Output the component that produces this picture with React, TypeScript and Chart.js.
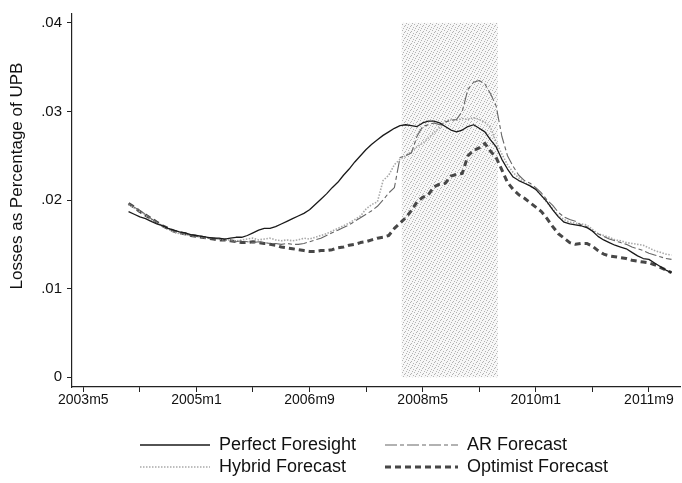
import React, { useEffect, useRef } from "react";
import { Chart, registerables } from "chart.js";

Chart.register(...registerables);

// month index 0 = 2003m5
const startMonth = 8; // 2004m1
const perfectForesight = [
  0.0187, 0.0184, 0.0181, 0.0179, 0.0176, 0.0173, 0.0171, 0.0168, 0.0166, 0.0164,
  0.0163, 0.0161, 0.016, 0.0159, 0.0158, 0.0157, 0.0157, 0.0156, 0.0157, 0.0158,
  0.0158, 0.016, 0.0163, 0.0166, 0.0168, 0.0168, 0.017, 0.0173, 0.0176, 0.0179,
  0.0182, 0.0185, 0.0189, 0.0195, 0.0201, 0.0207, 0.0214, 0.022, 0.0228, 0.0235,
  0.0243, 0.025, 0.0257, 0.0263, 0.0268, 0.0273, 0.0277, 0.0281, 0.0284, 0.0285,
  0.0284, 0.0283, 0.0287, 0.0289, 0.0289, 0.0287, 0.0283, 0.0279, 0.0277, 0.0279,
  0.0283, 0.0285, 0.0281, 0.0277, 0.0268, 0.026, 0.0246, 0.0235, 0.0226, 0.0222,
  0.0219, 0.0216, 0.0212, 0.0205, 0.0198, 0.0189, 0.0181, 0.0175, 0.0173, 0.0172,
  0.0171, 0.0169, 0.0165, 0.0159, 0.0155, 0.0152, 0.0149, 0.0147, 0.0145, 0.0141,
  0.0137, 0.0134, 0.0133, 0.0129, 0.0125, 0.0121, 0.0118,
];
const arForecast = [
  0.0196, 0.0192, 0.0188, 0.0184, 0.0179, 0.0175, 0.0171, 0.0168, 0.0165, 0.0163,
  0.0162, 0.016, 0.0159, 0.0158, 0.0157, 0.0157, 0.0156, 0.0155, 0.0154, 0.0153,
  0.0154, 0.0153, 0.0152, 0.0153, 0.0152, 0.0151, 0.0151, 0.015, 0.0151, 0.015,
  0.015, 0.0151, 0.0153, 0.0155, 0.0157, 0.016, 0.0163, 0.0166, 0.0169, 0.0172,
  0.0176, 0.018, 0.0184, 0.0188, 0.0193, 0.02, 0.0208, 0.0214, 0.0248, 0.025,
  0.0253, 0.0272, 0.0283, 0.0285, 0.0287, 0.0285, 0.0288, 0.029, 0.0291, 0.03,
  0.0325, 0.0333, 0.0335, 0.0331, 0.032, 0.0306, 0.0272, 0.025, 0.0238, 0.0228,
  0.0222, 0.0219, 0.0214, 0.0208, 0.02, 0.0194, 0.0186, 0.0181, 0.0178, 0.0176,
  0.0172, 0.017, 0.0165, 0.0162, 0.0159, 0.0156, 0.0154, 0.0152, 0.015, 0.0147,
  0.0145, 0.0143, 0.014, 0.0138, 0.0136, 0.0134, 0.0133,
];
const hybridForecast = [
  0.0195, 0.0191, 0.0187, 0.0183, 0.0178, 0.0174, 0.017, 0.0167, 0.0164, 0.0162,
  0.0161, 0.016, 0.0159, 0.0158, 0.0157, 0.0157, 0.0156, 0.0155, 0.0155, 0.0154,
  0.0155, 0.0156, 0.0157, 0.0155, 0.0156, 0.0157, 0.0155, 0.0154, 0.0155, 0.0154,
  0.0155, 0.0157, 0.0156, 0.0158, 0.016, 0.0162, 0.0165, 0.0168, 0.0171, 0.0174,
  0.0178, 0.0182, 0.019, 0.0195, 0.0198, 0.0222, 0.0228, 0.024, 0.0246, 0.025,
  0.0255, 0.026, 0.0264, 0.027, 0.0276, 0.0282, 0.0289, 0.0291, 0.029, 0.0292,
  0.0291, 0.0293, 0.0291, 0.0288, 0.0282, 0.0265, 0.0252, 0.024, 0.0231, 0.0225,
  0.022, 0.0216, 0.0212, 0.0205, 0.0197, 0.019, 0.0182, 0.0178, 0.0175, 0.0174,
  0.0173, 0.0172, 0.0167, 0.0162, 0.016, 0.0158, 0.0155, 0.0154, 0.0152, 0.0151,
  0.015, 0.0149, 0.0146, 0.0143, 0.0141, 0.0139, 0.0138,
];
const optimistForecast = [
  0.0196, 0.0192, 0.0187, 0.0183, 0.0179, 0.0175, 0.0171, 0.0168, 0.0165, 0.0163,
  0.0162, 0.016, 0.0159, 0.0158, 0.0157, 0.0156, 0.0155, 0.0155, 0.0154, 0.0153,
  0.0152, 0.0152, 0.0153, 0.0152, 0.0151, 0.015, 0.0149, 0.0147, 0.0146, 0.0145,
  0.0144, 0.0143, 0.0142, 0.0142, 0.0143, 0.0143, 0.0144, 0.0146, 0.0147, 0.0149,
  0.015, 0.0152, 0.0153, 0.0155, 0.0157, 0.0158, 0.016, 0.0168, 0.0174, 0.018,
  0.0188, 0.0198, 0.0203, 0.0206, 0.0215, 0.0218, 0.0219, 0.0227, 0.0229, 0.023,
  0.025, 0.0256, 0.0259, 0.0264, 0.0255, 0.0248, 0.0234, 0.022, 0.0212, 0.0206,
  0.0202, 0.0197, 0.0192, 0.0187, 0.0179, 0.017, 0.0162, 0.0157, 0.0152, 0.015,
  0.0151, 0.0151, 0.0148, 0.0143, 0.0139, 0.0137, 0.0136, 0.0135, 0.0134, 0.0132,
  0.0131, 0.013, 0.0129, 0.0127, 0.0124, 0.0121, 0.0118,
];

const seriesNames = ["Perfect Foresight", "AR Forecast", "Hybrid Forecast", "Optimist Forecast"];
const yAxisTitle = "Losses as Percentage of UPB";
const yTicks = [0, 0.01, 0.02, 0.03, 0.04];
const xTickMonths = [0, 10, 20, 30, 40, 50, 60, 70, 80, 90, 100];
const xLabelMonths = [0, 20, 40, 60, 80, 100];
const recessionStart = 56.3; // ~2008m1
const recessionEnd = 73.3; // ~2009m6

const FONT = "'Liberation Sans', Arial, Helvetica, sans-serif";

function monthLabel(m: number): string {
  const t = 4 + Math.round(m);
  return `${2003 + Math.floor(t / 12)}m${(t % 12) + 1}`;
}

function toPoints(arr: number[]) {
  return arr.map((v, i) => ({ x: startMonth + i, y: v }));
}

function makePattern(): CanvasPattern | string {
  const c = document.createElement("canvas");
  c.width = 6;
  c.height = 6;
  const g = c.getContext("2d");
  if (!g) return "#ebebeb";
  g.fillStyle = "#f7f7f7";
  g.fillRect(0, 0, 6, 6);
  g.fillStyle = "#b4b4b4";
  [[0, 0], [3, 1], [5, 3], [1, 4], [4, 5], [2, 2]].forEach(([x, y]) => g.fillRect(x, y, 1, 1));
  return g.createPattern(c, "repeat") || "#ebebeb";
}

export default function App() {
  const ref = useRef<HTMLCanvasElement | null>(null);
  useEffect(() => {
    document.body.style.margin = "0";
    const canvas = ref.current;
    if (!canvas) return;
    const pattern = makePattern();

    const shadePlugin = {
      id: "shade",
      beforeDatasetsDraw(chart: any) {
        const { ctx, scales } = chart;
        const x0 = scales.x.getPixelForValue(recessionStart);
        const x1 = scales.x.getPixelForValue(recessionEnd);
        const y0 = scales.y.getPixelForValue(0.04);
        const y1 = scales.y.getPixelForValue(0);
        ctx.save();
        ctx.fillStyle = pattern;
        ctx.fillRect(x0, y0, x1 - x0, y1 - y0);
        ctx.restore();
      },
    };

    const annotPlugin = {
      id: "customLegend",
      afterDraw(chart: any) {
        const { ctx } = chart;
        // y-axis title
        ctx.save();
        ctx.translate(17, 176);
        ctx.rotate(-Math.PI / 2);
        ctx.fillStyle = "#111";
        ctx.font = `17px ${FONT}`;
        ctx.textAlign = "center";
        ctx.textBaseline = "middle";
        ctx.fillText(yAxisTitle, 0, 0);
        ctx.restore();

        const slots = [
          { x1: 140, x2: 210, tx: 219, y: 445 },
          { x1: 385, x2: 458, tx: 467, y: 445 },
          { x1: 140, x2: 210, tx: 219, y: 467 },
          { x1: 385, x2: 458, tx: 467, y: 467 },
        ];
        chart.data.datasets.forEach((ds: any, i: number) => {
          const s = slots[i];
          ctx.save();
          ctx.strokeStyle = ds.borderColor;
          ctx.lineWidth = ds.borderWidth;
          ctx.setLineDash(ds.borderDash || []);
          ctx.beginPath();
          ctx.moveTo(s.x1, s.y);
          ctx.lineTo(s.x2, s.y);
          ctx.stroke();
          ctx.setLineDash([]);
          ctx.fillStyle = "#111";
          ctx.font = `18px ${FONT}`;
          ctx.textBaseline = "middle";
          ctx.textAlign = "left";
          ctx.fillText(ds.label, s.tx, s.y);
          ctx.restore();
        });
      },
    };

    const chart = new Chart(canvas, {
      type: "line",
      data: {
        datasets: [
          {
            label: seriesNames[0],
            data: toPoints(perfectForesight),
            borderColor: "#1a1a1a",
            borderWidth: 1.3,
            borderDash: [],
            pointRadius: 0,
          },
          {
            label: seriesNames[1],
            data: toPoints(arForecast),
            borderColor: "#666666",
            borderWidth: 1.1,
            borderDash: [12, 3, 4, 3],
            pointRadius: 0,
          },
          {
            label: seriesNames[2],
            data: toPoints(hybridForecast),
            borderColor: "#a9a9a9",
            borderWidth: 1.6,
            borderDash: [1.5, 1.5],
            pointRadius: 0,
          },
          {
            label: seriesNames[3],
            data: toPoints(optimistForecast),
            borderColor: "#474747",
            borderWidth: 3,
            borderDash: [6, 4],
            pointRadius: 0,
          },
        ] as any,
      },
      options: {
        animation: false,
        responsive: false,
        maintainAspectRatio: false,
        layout: { padding: { top: 11, right: 2, bottom: 66, left: 0 } },
        plugins: { legend: { display: false }, tooltip: { enabled: false } },
        elements: { line: { tension: 0, borderJoinStyle: "round" } },
        scales: {
          x: {
            type: "linear",
            min: -2,
            max: 105.5,
            border: { display: true, color: "#222", width: 1.2 },
            grid: { drawOnChartArea: false, drawTicks: true, tickLength: 5, color: "#222" },
            afterBuildTicks: (scale: any) => {
              scale.ticks = xTickMonths.map((v) => ({ value: v }));
            },
            afterFit: (scale: any) => {
              scale.height = 30;
            },
            ticks: {
              autoSkip: false,
              maxRotation: 0,
              padding: 0,
              color: "#111",
              font: { family: FONT, size: 14 },
              callback: (v: any) => (xLabelMonths.includes(Number(v)) ? monthLabel(Number(v)) : ""),
            },
          },
          y: {
            type: "linear",
            min: -0.0011,
            max: 0.041,
            border: { display: true, color: "#222", width: 1.2 },
            grid: { drawOnChartArea: false, drawTicks: true, tickLength: 5, color: "#222" },
            afterBuildTicks: (scale: any) => {
              scale.ticks = yTicks.map((v) => ({ value: v }));
            },
            afterFit: (scale: any) => {
              scale.width = 72;
            },
            title: { display: false },
            ticks: {
              padding: 5,
              color: "#111",
              font: { family: FONT, size: 15 },
              callback: (v: any) => {
                const n = Math.round(Number(v) * 100);
                return n === 0 ? "0" : "." + String(n).padStart(2, "0");
              },
            },
          },
        },
      } as any,
      plugins: [shadePlugin, annotPlugin],
    });
    return () => chart.destroy();
  }, []);

  return (
    <div style={{ width: 682, height: 483, background: "#fff" }}>
      <canvas ref={ref} width={682} height={483} style={{ width: 682, height: 483, display: "block" }} />
    </div>
  );
}
